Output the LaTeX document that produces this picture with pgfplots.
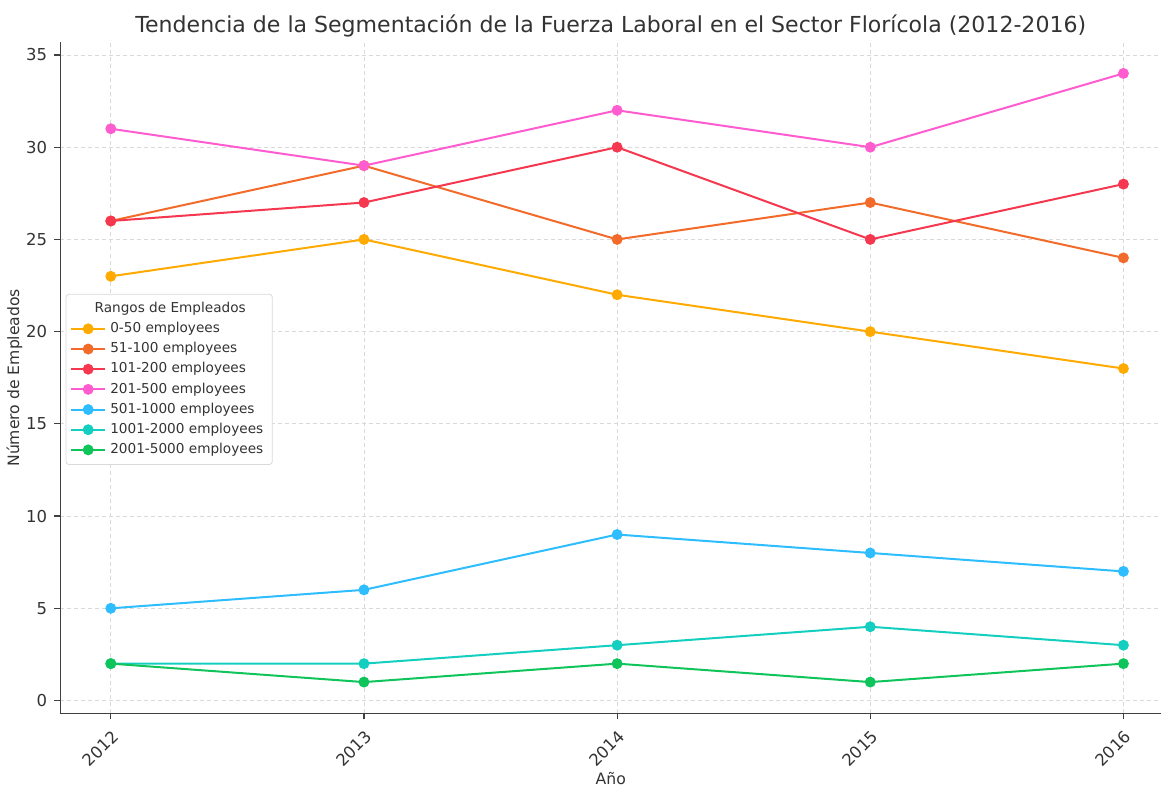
\documentclass[border=0pt]{standalone}
\usepackage{pgfplots}
\pgfplotsset{compat=1.18}
\usepackage{fontspec}
\setmainfont{DejaVu Sans}
\definecolor{cA}{HTML}{FFAA00}
\definecolor{cB}{HTML}{F26B2A}
\definecolor{cC}{HTML}{F5384F}
\definecolor{cD}{HTML}{FF5CCF}
\definecolor{cE}{HTML}{2EBDFF}
\definecolor{cF}{HTML}{14CFC0}
\definecolor{cG}{HTML}{10C45C}
\definecolor{txt}{HTML}{333333}
\begin{document}
\begin{tikzpicture}
\begin{axis}[
  scale only axis,
  width=549.5pt, height=335pt,
  xmin=2011.8, xmax=2016.15,
  ymin=-0.7, ymax=35.7,
  xtick={2012,2013,2014,2015,2016},
  ytick={0,5,10,15,20,25,30,35},
  xticklabel style={rotate=45, anchor=north east, font=\fontsize{8.2}{9}\selectfont, text=txt},
  yticklabel style={font=\fontsize{8.2}{9}\selectfont, text=txt},
  /pgf/number format/assume math mode=true,
  /pgf/number format/1000 sep={},
  axis x line*=bottom, axis y line*=left,
  axis line style={black!75, line width=0.6pt},
  tick style={black!75, line width=0.6pt},
  tick align=outside, major tick length=3pt,
  grid=major,
  major grid style={dash pattern=on 2pt off 1.5pt, gray!30, line width=0.4pt},
  title={Tendencia de la Segmentación de la Fuerza Laboral en el Sector Florícola (2012-2016)},
  title style={font=\fontsize{11}{13}\selectfont, text=txt, yshift=-7pt},
  xlabel={Año}, ylabel={Número de Empleados},
  xlabel style={font=\fontsize{7.8}{9}\selectfont, text=txt, yshift=6pt},
  ylabel style={font=\fontsize{7.8}{9}\selectfont, text=txt, yshift=-5pt},
  legend style={at={(rel axis cs:0.005,0.625)}, anchor=north west,
    font=\fontsize{6.8}{8}\selectfont, text=txt, draw=gray!30, rounded corners=1.5pt,
    row sep=-0.6pt, inner sep=2pt},
  legend cell align=left,
  every axis plot/.append style={line width=1pt, mark=*, mark size=2.2pt},
]
\addlegendimage{empty legend}
\addlegendentry{\hspace{-0.6cm}\parbox{3.3cm}{\centering Rangos de Empleados}}
\addplot[color=cA, mark options={fill=cA, draw=cA}] coordinates {(2012,23)(2013,25)(2014,22)(2015,20)(2016,18)};
\addlegendentry{0-50 employees}
\addplot[color=cB, mark options={fill=cB, draw=cB}] coordinates {(2012,26)(2013,29)(2014,25)(2015,27)(2016,24)};
\addlegendentry{51-100 employees}
\addplot[color=cC, mark options={fill=cC, draw=cC}] coordinates {(2012,26)(2013,27)(2014,30)(2015,25)(2016,28)};
\addlegendentry{101-200 employees}
\addplot[color=cD, mark options={fill=cD, draw=cD}] coordinates {(2012,31)(2013,29)(2014,32)(2015,30)(2016,34)};
\addlegendentry{201-500 employees}
\addplot[color=cE, mark options={fill=cE, draw=cE}] coordinates {(2012,5)(2013,6)(2014,9)(2015,8)(2016,7)};
\addlegendentry{501-1000 employees}
\addplot[color=cF, mark options={fill=cF, draw=cF}] coordinates {(2012,2)(2013,2)(2014,3)(2015,4)(2016,3)};
\addlegendentry{1001-2000 employees}
\addplot[color=cG, mark options={fill=cG, draw=cG}] coordinates {(2012,2)(2013,1)(2014,2)(2015,1)(2016,2)};
\addlegendentry{2001-5000 employees}
\end{axis}
\path (current axis.north east) ++(0,21pt);
\end{tikzpicture}
\end{document}
